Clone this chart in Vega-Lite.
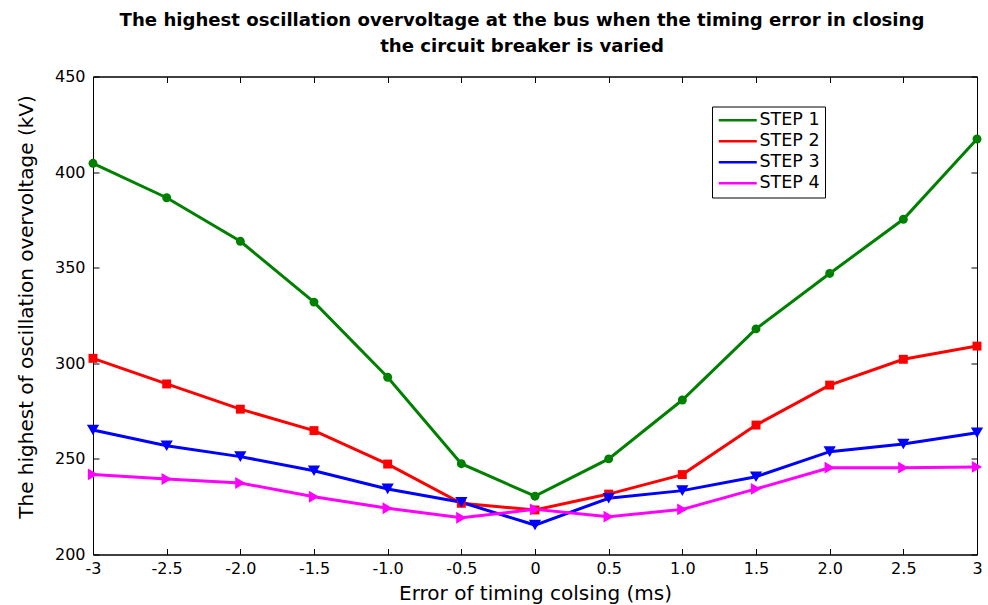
{
  "$schema": "https://vega.github.io/schema/vega-lite/v6.json",
  "width": 884,
  "height": 478,
  "autosize": {"type": "none"},
  "padding": {"left": 93, "top": 76.5, "right": 11, "bottom": 50.5},
  "background": "white",
  "config": {
    "view": {"stroke": "black", "strokeWidth": 1},
    "font": "DejaVu Sans"
  },
  "title": {
    "text": ["The highest oscillation overvoltage at the bus when the timing error in closing", "the circuit breaker is varied"],
    "font": "DejaVu Sans",
    "fontSize": 18.1,
    "fontWeight": "bold",
    "color": "black",
    "anchor": "middle",
    "frame": "group",
    "dx": -13,
    "offset": 12,
    "lineHeight": 26
  },
  "data": {
    "values": [
      {"x": -3, "v": 404.6, "s": "STEP 1"}, {"x": -2.5, "v": 386.6, "s": "STEP 1"}, {"x": -2, "v": 363.8, "s": "STEP 1"}, {"x": -1.5, "v": 332, "s": "STEP 1"}, {"x": -1, "v": 292.7, "s": "STEP 1"}, {"x": -0.5, "v": 247.5, "s": "STEP 1"}, {"x": 0, "v": 230.5, "s": "STEP 1"}, {"x": 0.5, "v": 250, "s": "STEP 1"}, {"x": 1, "v": 280.8, "s": "STEP 1"}, {"x": 1.5, "v": 318, "s": "STEP 1"}, {"x": 2, "v": 347, "s": "STEP 1"}, {"x": 2.5, "v": 375.3, "s": "STEP 1"}, {"x": 3, "v": 417.3, "s": "STEP 1"},
      {"x": -3, "v": 302.6, "s": "STEP 2"}, {"x": -2.5, "v": 289.2, "s": "STEP 2"}, {"x": -2, "v": 276, "s": "STEP 2"}, {"x": -1.5, "v": 264.8, "s": "STEP 2"}, {"x": -1, "v": 247.3, "s": "STEP 2"}, {"x": -0.5, "v": 226.8, "s": "STEP 2"}, {"x": 0, "v": 223.3, "s": "STEP 2"}, {"x": 0.5, "v": 231.6, "s": "STEP 2"}, {"x": 1, "v": 241.8, "s": "STEP 2"}, {"x": 1.5, "v": 267.7, "s": "STEP 2"}, {"x": 2, "v": 288.6, "s": "STEP 2"}, {"x": 2.5, "v": 302.1, "s": "STEP 2"}, {"x": 3, "v": 309, "s": "STEP 2"},
      {"x": -3, "v": 265.1, "s": "STEP 3"}, {"x": -2.5, "v": 256.9, "s": "STEP 3"}, {"x": -2, "v": 251.2, "s": "STEP 3"}, {"x": -1.5, "v": 243.8, "s": "STEP 3"}, {"x": -1, "v": 234.3, "s": "STEP 3"}, {"x": -0.5, "v": 227.3, "s": "STEP 3"}, {"x": 0, "v": 215.4, "s": "STEP 3"}, {"x": 0.5, "v": 229.4, "s": "STEP 3"}, {"x": 1, "v": 233.4, "s": "STEP 3"}, {"x": 1.5, "v": 240.7, "s": "STEP 3"}, {"x": 2, "v": 253.8, "s": "STEP 3"}, {"x": 2.5, "v": 257.8, "s": "STEP 3"}, {"x": 3, "v": 263.7, "s": "STEP 3"},
      {"x": -3, "v": 241.9, "s": "STEP 4"}, {"x": -2.5, "v": 239.5, "s": "STEP 4"}, {"x": -2, "v": 237.4, "s": "STEP 4"}, {"x": -1.5, "v": 230.2, "s": "STEP 4"}, {"x": -1, "v": 224.2, "s": "STEP 4"}, {"x": -0.5, "v": 219.2, "s": "STEP 4"}, {"x": 0, "v": 223.6, "s": "STEP 4"}, {"x": 0.5, "v": 219.8, "s": "STEP 4"}, {"x": 1, "v": 223.6, "s": "STEP 4"}, {"x": 1.5, "v": 234.3, "s": "STEP 4"}, {"x": 2, "v": 245.4, "s": "STEP 4"}, {"x": 2.5, "v": 245.4, "s": "STEP 4"}, {"x": 3, "v": 245.8, "s": "STEP 4"}
    ]
  },
  "layer": [
    {
      "encoding": {
        "x": {
          "field": "x", "type": "quantitative",
          "scale": {"domain": [-3, 3], "nice": false, "zero": false},
          "axis": {
            "orient": "bottom",
            "values": [-3, -2.5, -2, -1.5, -1, -0.5, 0, 0.5, 1, 1.5, 2, 2.5, 3],
            "labelExpr": "datum.value == 0 ? '0' : (abs(datum.value) == 3 ? (datum.value < 0 ? '-3' : '3') : ((datum.value < 0 ? '-' : '') + format(abs(datum.value), '.1f')))",
            "title": "Error of timing colsing (ms)",
            "titleFont": "DejaVu Sans", "titleFontSize": 20, "titleFontWeight": "normal", "titleColor": "black",
            "titleY": 45, "titleBaseline": "alphabetic",
            "labelFont": "DejaVu Sans", "labelFontSize": 16, "labelColor": "black", "labelPadding": 12,
            "tickSize": -6, "tickColor": "black", "domainColor": "black", "grid": false, "labelFlush": false, "labelOverlap": false
          }
        },
        "y": {
          "field": "v", "type": "quantitative",
          "scale": {"domain": [200, 450], "nice": false, "zero": false},
          "axis": {
            "orient": "left",
            "values": [200, 250, 300, 350, 400, 450],
            "title": "The highest of oscillation overvoltage (kV)",
            "titleFont": "DejaVu Sans", "titleFontSize": 20, "titleFontWeight": "normal", "titleColor": "black",
            "titleX": -61, "titleY": 230, "titleAlign": "center", "titleBaseline": "alphabetic",
            "labelFont": "DejaVu Sans", "labelFontSize": 16, "labelColor": "black", "labelPadding": 14,
            "tickSize": -6, "tickColor": "black", "domainColor": "black", "grid": false, "labelFlush": false, "labelOverlap": false
          }
        }
      },
      "layer": [
        {
          "mark": {"type": "line", "strokeWidth": 3},
          "encoding": {
            "color": {
              "field": "s", "type": "nominal",
              "scale": {"domain": ["STEP 1", "STEP 2", "STEP 3", "STEP 4"], "range": ["#008000", "#ff0000", "#0000ff", "#ff00ff"]},
              "legend": {
                "orient": "none", "legendX": 619, "legendY": 30, "title": null, "direction": "vertical",
                "strokeColor": "black", "fillColor": "white", "padding": 5,
                "symbolType": "M-3.8,0H3.8",
                "symbolSize": 100, "symbolOffset": 12, "labelOffset": 13, "rowPadding": 2,
                "labelFontSize": 17.5, "labelFont": "DejaVu Sans", "labelColor": "black",
                "symbolStrokeWidth": 2.6,
                "labelExpr": "datum.label + '\u00a0\u00a0\u00a0'"
              }
            }
          }
        },
        {
          "transform": [{"filter": "datum.s === 'STEP 1'"}],
          "mark": {"type": "point", "filled": true, "opacity": 1, "shape": "circle", "size": 80, "strokeWidth": 0},
          "encoding": {"color": {"field": "s", "type": "nominal", "legend": null}}
        },
        {
          "transform": [{"filter": "datum.s === 'STEP 2'"}],
          "mark": {"type": "point", "filled": true, "opacity": 1, "shape": "square", "size": 80, "strokeWidth": 0},
          "encoding": {"color": {"field": "s", "type": "nominal", "legend": null}}
        },
        {
          "transform": [{"filter": "datum.s === 'STEP 3'"}],
          "mark": {"type": "point", "filled": true, "opacity": 1, "shape": "triangle-down", "size": 150, "strokeWidth": 0},
          "encoding": {"color": {"field": "s", "type": "nominal", "legend": null}}
        },
        {
          "transform": [{"filter": "datum.s === 'STEP 4'"}],
          "mark": {"type": "point", "filled": true, "opacity": 1, "shape": "triangle-right", "size": 140, "strokeWidth": 0},
          "encoding": {"color": {"field": "s", "type": "nominal", "legend": null}}
        }
      ]
    },
    {
      "mark": {"type": "point", "opacity": 0},
      "encoding": {
        "x": {
          "field": "x", "type": "quantitative",
          "axis": {"orient": "top", "values": [-3, -2.5, -2, -1.5, -1, -0.5, 0, 0.5, 1, 1.5, 2, 2.5, 3], "labels": false, "title": null, "tickSize": -6, "tickColor": "black", "domainColor": "black", "grid": false}
        },
        "y": {
          "field": "v", "type": "quantitative",
          "axis": {"orient": "right", "values": [200, 250, 300, 350, 400, 450], "labels": false, "title": null, "tickSize": -6, "tickColor": "black", "domainColor": "black", "grid": false}
        }
      }
    }
  ],
  "resolve": {"axis": {"x": "independent", "y": "independent"}}
}
